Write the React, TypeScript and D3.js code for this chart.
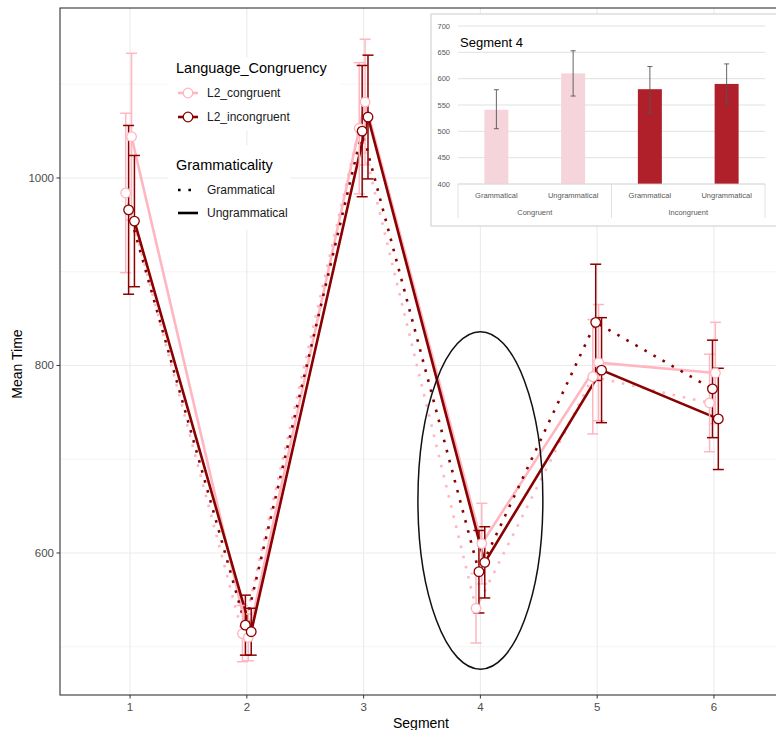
import * as d3 from "d3";

// main chart data
const segments = [1, 2, 3, 4, 5, 6];
const yMajorTicks = [600, 800, 1000];
const yMinorTicks = [500, 700, 900, 1100];

const congruentGrammatical = [984, 514, 1053, 541, 788, 760];
const congruentUngrammatical = [1044, 510, 1081, 610, 803, 792];
const incongruentGrammatical = [966, 523, 1050, 580, 846, 775];
const incongruentUngrammatical = [954, 516, 1065, 590, 795, 743];

const congruentGrammaticalSE = [85, 30, 70, 37, 61, 52];
const congruentUngrammaticalSE = [89, 25, 67, 43, 62, 54];
const incongruentGrammaticalSE = [90, 32, 70, 44, 62, 52];
const incongruentUngrammaticalSE = [70, 25, 66, 38, 56, 54];

// inset (Segment 4)
const insetGroups = ["Congruent", "Incongruent"];
const insetCategories = ["Grammatical", "Ungrammatical", "Grammatical", "Ungrammatical"];
const insetValues = [541, 610, 580, 590];
const insetLow = [505, 567, 535, 552];
const insetHigh = [579, 653, 623, 628];
const insetTicks = [400, 450, 500, 550, 600, 650, 700];

const PINK = "#FFB6C1";
const DARK = "#8B0000";
const FONT = "'Liberation Sans', Arial, sans-serif";

const series = [
  { name: "congGram", color: PINK, dotted: true, means: congruentGrammatical, se: congruentGrammaticalSE, dodge: -0.0375 },
  { name: "congUngram", color: PINK, dotted: false, means: congruentUngrammatical, se: congruentUngrammaticalSE, dodge: 0.0125 },
  { name: "incongGram", color: DARK, dotted: true, means: incongruentGrammatical, se: incongruentGrammaticalSE, dodge: -0.0125 },
  { name: "incongUngram", color: DARK, dotted: false, means: incongruentUngrammatical, se: incongruentUngrammaticalSE, dodge: 0.0375 },
];

export default function App() {
  const x = d3.scaleLinear().domain([0.4, 6.6]).range([60, 784]);
  const y = d3.scaleLinear().domain([448.5, 1181.3]).range([695, 8]);

  const line = (s: (typeof series)[number]) =>
    d3
      .line<number>()
      .x((_, i) => x(segments[i] + s.dodge))
      .y((d) => y(d))(s.means) || "";

  // ellipse annotation around segment 4 in data units
  const ellCx = x(4), ellCy = y(656);
  const ellRx = x(4.535) - x(4), ellRy = y(476) - y(656);

  // inset scales
  const iy = d3.scaleLinear().domain([400, 700]).range([184, 26]);
  const ix = d3.scaleBand<number>().domain(d3.range(insetValues.length)).range([458, 765]);
  const insetColor = (i: number) => (i < 2 ? "#F5D4DB" : "#B0202A");

  return (
    <svg width={776} height={730} style={{ position: "absolute", left: 0, top: 0, fontFamily: FONT }}>
      <rect width={776} height={730} fill="#fff" />
      {/* gridlines */}
      {yMinorTicks.map((t) => (
        <line key={"mi" + t} x1={60} x2={784} y1={y(t)} y2={y(t)} stroke="#f2f2f2" strokeWidth={0.8} />
      ))}
      {yMajorTicks.map((t) => (
        <line key={"ma" + t} x1={60} x2={784} y1={y(t)} y2={y(t)} stroke="#ebebeb" strokeWidth={1.1} />
      ))}
      {segments.map((s) => (
        <line key={"vx" + s} x1={x(s)} x2={x(s)} y1={8} y2={695} stroke="#ebebeb" strokeWidth={1.1} />
      ))}

      {/* legend backgrounds */}
      <rect x={168} y={57} width={172} height={74} fill="#fff" />
      <rect x={168} y={145} width={122} height={85} fill="#fff" />

      {/* lines */}
      {series.map((s) => (
        <path
          key={"l" + s.name}
          d={line(s)}
          fill="none"
          stroke={s.color}
          strokeWidth={2.6}
          strokeDasharray={s.dotted ? "2.6 7.8" : undefined}
        />
      ))}
      {/* error bars */}
      {series.map((s) =>
        s.means.map((m, i) => {
          const cx = x(segments[i] + s.dodge);
          const top = y(m + s.se[i]);
          const bot = y(m - s.se[i]);
          return (
            <g key={"e" + s.name + i} stroke={s.color} strokeWidth={1.5}>
              <line x1={cx} x2={cx} y1={top} y2={bot} />
              <line x1={cx - 5.5} x2={cx + 5.5} y1={top} y2={top} />
              <line x1={cx - 5.5} x2={cx + 5.5} y1={bot} y2={bot} />
            </g>
          );
        })
      )}
      {/* points */}
      {series.map((s) =>
        s.means.map((m, i) => (
          <circle
            key={"p" + s.name + i}
            cx={x(segments[i] + s.dodge)}
            cy={y(m)}
            r={4.8}
            fill="#fff"
            stroke={s.color}
            strokeWidth={1.3}
          />
        ))
      )}

      {/* ellipse annotation */}
      <ellipse cx={ellCx} cy={ellCy} rx={ellRx} ry={ellRy} fill="none" stroke="#111" strokeWidth={1.5} />

      {/* legend */}
      <text x={176} y={73} fontSize={14.5} fill="#000">Language_Congruency</text>
      <line x1={178} x2={198} y1={93} y2={93} stroke={PINK} strokeWidth={2.6} />
      <circle cx={188} cy={93} r={4.8} fill="#fff" stroke={PINK} strokeWidth={1.3} />
      <text x={207} y={97} fontSize={12} fill="#1a1a1a">L2_congruent</text>
      <line x1={178} x2={198} y1={117} y2={117} stroke={DARK} strokeWidth={2.6} />
      <circle cx={188} cy={117} r={4.8} fill="#fff" stroke={DARK} strokeWidth={1.3} />
      <text x={207} y={121} fontSize={12} fill="#1a1a1a">L2_incongruent</text>
      <text x={176} y={170} fontSize={14.5} fill="#000">Grammaticality</text>
      <line x1={178} x2={198} y1={190} y2={190} stroke="#000" strokeWidth={2.6} strokeDasharray="2.6 7.8" />
      <text x={207} y={194} fontSize={12} fill="#1a1a1a">Grammatical</text>
      <line x1={178} x2={198} y1={213} y2={213} stroke="#000" strokeWidth={2.6} />
      <text x={207} y={217} fontSize={12} fill="#1a1a1a">Ungrammatical</text>

      {/* panel border */}
      <rect x={60} y={8} width={724} height={687} fill="none" stroke="#333" strokeWidth={1.1} />

      {/* axes */}
      {segments.map((s) => (
        <g key={"xt" + s}>
          <line x1={x(s)} x2={x(s)} y1={695} y2={698.5} stroke="#333" strokeWidth={1} />
          <text x={x(s)} y={711} fontSize={11.5} fill="#4d4d4d" textAnchor="middle">{s}</text>
        </g>
      ))}
      {yMajorTicks.map((t) => (
        <g key={"yt" + t}>
          <line x1={56.5} x2={60} y1={y(t)} y2={y(t)} stroke="#333" strokeWidth={1} />
          <text x={54} y={y(t) + 4} fontSize={11.5} fill="#4d4d4d" textAnchor="end">{t}</text>
        </g>
      ))}
      <text x={421} y={728} fontSize={14} fill="#000" textAnchor="middle">Segment</text>
      <text transform={`translate(22,364) rotate(-90)`} fontSize={14} fill="#000" textAnchor="middle">Mean Time</text>

      {/* inset */}
      <g>
        <rect x={431} y={14} width={350} height={212} fill="#fff" stroke="#d4d4d4" strokeWidth={1.2} />
        {insetTicks.map((t) => (
          <g key={"it" + t}>
            <line x1={458} x2={765} y1={iy(t)} y2={iy(t)} stroke="#d9d9d9" strokeWidth={0.8} />
            <text x={450} y={iy(t) + 2.7} fontSize={7.5} fill="#595959" textAnchor="end">{t}</text>
          </g>
        ))}
        {insetValues.map((v, i) => {
          const bx = (ix(i) || 0) + ix.bandwidth() / 2;
          return (
            <g key={"ib" + i}>
              <rect x={bx - 12} y={iy(v)} width={24} height={iy(400) - iy(v)} fill={insetColor(i)} />
              <g stroke="#555" strokeWidth={0.9}>
                <line x1={bx} x2={bx} y1={iy(insetHigh[i])} y2={iy(insetLow[i])} />
                <line x1={bx - 2.5} x2={bx + 2.5} y1={iy(insetHigh[i])} y2={iy(insetHigh[i])} />
                <line x1={bx - 2.5} x2={bx + 2.5} y1={iy(insetLow[i])} y2={iy(insetLow[i])} />
              </g>
              <text x={bx} y={198} fontSize={7.5} fill="#595959" textAnchor="middle">{insetCategories[i]}</text>
            </g>
          );
        })}
        <line x1={458} x2={765} y1={iy(400)} y2={iy(400)} stroke="#d9d9d9" strokeWidth={0.8} />
        {[0, 2, 4].map((k) => {
          const px = k < 4 ? ix(k) || 0 : 765;
          return <line key={"is" + k} x1={px} x2={px} y1={iy(400)} y2={218} stroke="#d9d9d9" strokeWidth={0.8} />;
        })}
        {insetGroups.map((g, gi) => (
          <text key={g} x={((ix(gi * 2) || 0) + (ix(gi * 2 + 1) || 0)) / 2 + ix.bandwidth() / 2} y={215} fontSize={7.5} fill="#595959" textAnchor="middle">
            {g}
          </text>
        ))}
        <text x={460} y={47} fontSize={13} fill="#000">Segment 4</text>
      </g>
    </svg>
  );
}
